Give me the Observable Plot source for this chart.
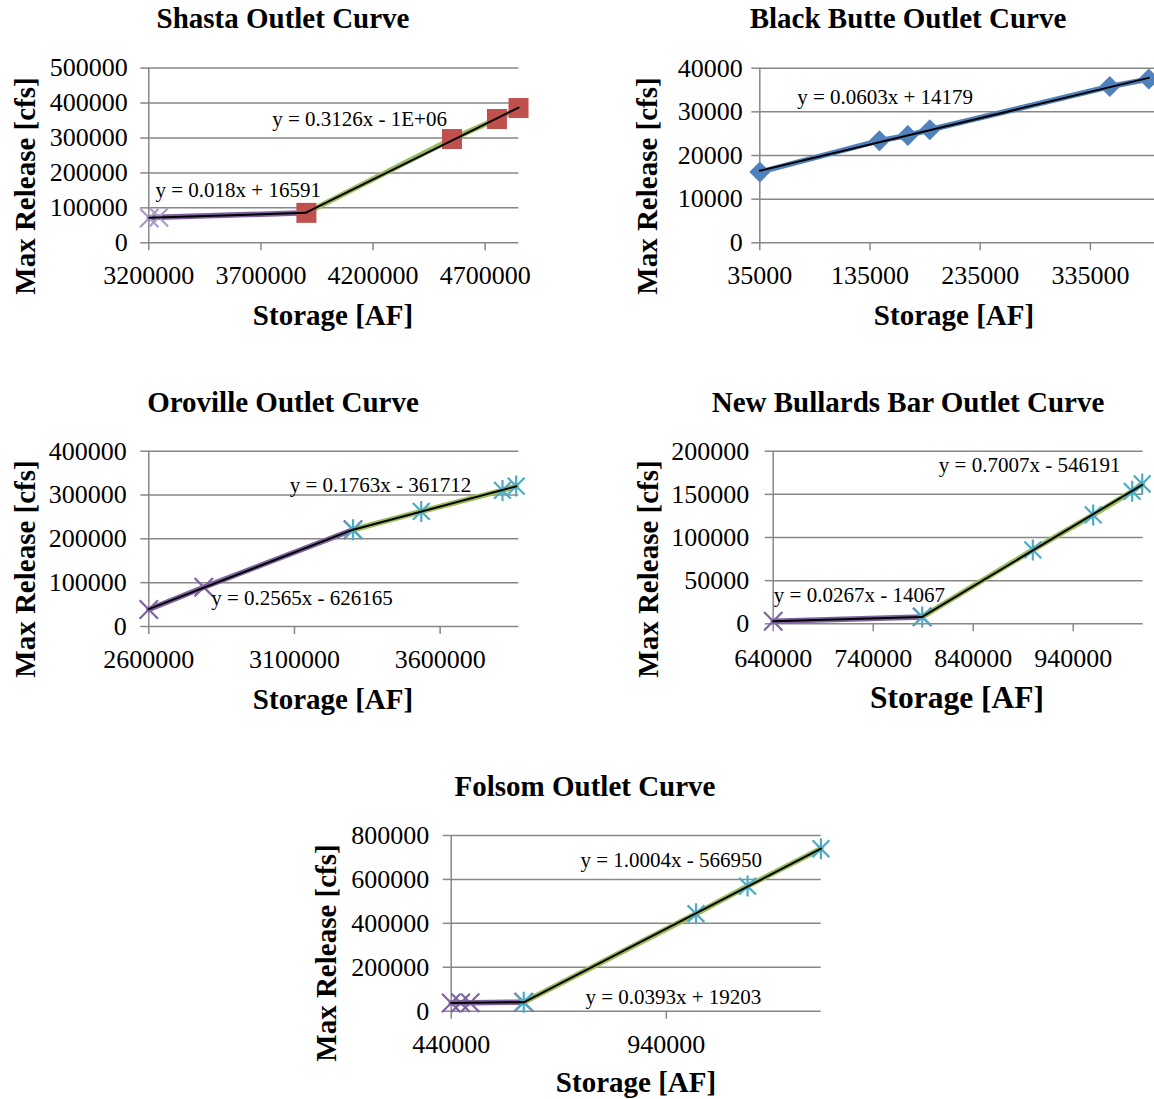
<!DOCTYPE html>
<html>
<head>
<meta charset="utf-8">
<script src="https://cdn.jsdelivr.net/npm/d3@7"></script>
<script src="https://cdn.jsdelivr.net/npm/@observablehq/plot@0.6"></script>
<style>
  html, body { margin: 0; padding: 0; background: #fff; }
  #root { position: relative; width: 1154px; height: 1099px; overflow: hidden; background: #fff;
          font-family: "Liberation Serif", "Times New Roman", serif; color: #000; }
  #root svg, #root svg text { font-family: "Liberation Serif", "Times New Roman", serif !important; }
  .panel { position: absolute; }
  .lbl { position: absolute; white-space: nowrap; font-weight: bold; line-height: 1; }
</style>
</head>
<body>
<div id="root"></div>
<script>
// ---------------- DATA ----------------
// Shasta
const shastaLowStorage  = [3202000, 3245000, 3902800];
const shastaLowRelease  = [71000, 73000, 85700];
const shastaHighStorage = [3902800, 4552000, 4752600, 4848800];
const shastaHighRelease = [85700, 297000, 354300, 385700];
// Black Butte
const blackButteStorage = [35000, 143600, 169300, 189300, 352600, 388000];
const blackButteRelease = [16200, 23400, 24600, 25900, 35800, 37500];
// Oroville
const orovilleLowStorage  = [2600000, 2788600, 3301000];
const orovilleLowRelease  = [38800, 89700, 220800];
const orovilleHighStorage = [3301000, 3535200, 3814000, 3861000];
const orovilleHighRelease = [220800, 262600, 310500, 320400];
// New Bullards Bar
const nbbLowStorage  = [640000, 789000];
const nbbLowRelease  = [3000, 8000];
const nbbHighStorage = [789000, 899600, 960000, 999000, 1009000];
const nbbHighRelease = [8000, 85600, 126200, 153500, 162000];
// Folsom
const folsomLowStorage  = [440000, 462000, 484000, 608600];
const folsomLowRelease  = [37500, 38000, 38500, 41000];
const folsomHighStorage = [608600, 1009000, 1128800, 1299300];
const folsomHighRelease = [41000, 443700, 569500, 739900];

// Tick values
const shastaXTicks = [3200000, 3700000, 4200000, 4700000];
const shastaYTicks = [0, 100000, 200000, 300000, 400000, 500000];
const blackButteXTicks = [35000, 135000, 235000, 335000];
const blackButteYTicks = [0, 10000, 20000, 30000, 40000];
const orovilleXTicks = [2600000, 3100000, 3600000];
const orovilleYTicks = [0, 100000, 200000, 300000, 400000];
const nbbXTicks = [640000, 740000, 840000, 940000];
const nbbYTicks = [0, 50000, 100000, 150000, 200000];
const folsomXTicks = [440000, 940000];
const folsomYTicks = [0, 200000, 400000, 600000, 800000];

// Titles and trendline equations
const titles = ["Shasta Outlet Curve", "Black Butte Outlet Curve", "Oroville Outlet Curve",
                "New Bullards Bar Outlet Curve", "Folsom Outlet Curve"];
const xTitle = "Storage [AF]";
const yTitle = "Max Release [cfs]";
const shastaEq = ["y = 0.018x + 16591", "y = 0.3126x - 1E+06"];
const blackButteEq = ["y = 0.0603x + 14179"];
const orovilleEq = ["y = 0.2565x - 626165", "y = 0.1763x - 361712"];
const nbbEq = ["y = 0.0267x - 14067", "y = 0.7007x - 546191"];
const folsomEq = ["y = 0.0393x + 19203", "y = 1.0004x - 566950"];

// ---------------- RENDER ----------------
const rows = (s, r) => s.map((v, i) => ({storage: v, release: r[i]}));
const fmt = d3.format("d");
const SERIF = '"Liberation Serif", "Times New Roman", serif';
const GRID = "#878787";
const PURPLE = "#7F63A1", LAVENDER = "#A99BCB", GREEN = "#9BBB59",
      CYAN = "#4BACC6", RED = "#C0504D", BLUE = "#4F81BD";

const half = size => Math.sqrt(size / Math.PI);
const SYM = {
  square:  {draw(c, s) { const r = half(s); c.rect(-r, -r, 2 * r, 2 * r); }},
  diamond: {draw(c, s) { const r = half(s); c.moveTo(0, -r); c.lineTo(r, 0); c.lineTo(0, r); c.lineTo(-r, 0); c.closePath(); }},
  cross:   {draw(c, s) { const r = half(s) * 0.92; c.moveTo(-r, -r); c.lineTo(r, r); c.moveTo(r, -r); c.lineTo(-r, r); }},
  star:    {draw(c, s) { const r = half(s); const a = r * 0.8; c.moveTo(-a, -a); c.lineTo(a, a); c.moveTo(a, -a); c.lineTo(-a, a); c.moveTo(0, -r); c.lineTo(0, r); }}
};

function markerMarks(data, m) {
  const filled = m.symbol === SYM.square || m.symbol === SYM.diamond;
  return Plot.dot(data, {x: "storage", y: "release", symbol: m.symbol, r: m.r,
    fill: filled ? m.color : "none", stroke: filled ? "none" : m.color, strokeWidth: filled ? 0 : 2.2});
}

const root = document.getElementById("root");

function label(text, cx, cy, size, rotate) {
  const d = document.createElement("div");
  d.className = "lbl";
  d.textContent = text;
  d.style.fontSize = size + "px";
  d.style.left = cx + "px";
  d.style.top = cy + "px";
  d.style.transform = "translate(-50%,-50%)" + (rotate ? " rotate(-90deg)" : "");
  root.appendChild(d);
}

function panel(p) {
  const ml = p.fx[0] - p.L, mr = p.L + p.W - p.fx[1];
  const mt = p.fy[0] - p.T, mb = p.T + p.H - p.fy[1];
  const marks = [
    Plot.gridY({ticks: p.yTicks, stroke: GRID, strokeOpacity: 1, strokeWidth: 1.5}),
    Plot.ruleX([p.xDomain[0]], {stroke: GRID, strokeWidth: 1.5}),
    Plot.axisY({ticks: p.yTicks, tickSize: 8, tickPadding: p.yPad, stroke: GRID, strokeWidth: 1.5,
                tickFormat: fmt, label: null, fontFamily: SERIF, fontSize: 26}),
    Plot.axisX({ticks: p.xTicks, tickSize: 8, tickPadding: p.xPad, stroke: GRID, strokeWidth: 1.5,
                tickFormat: fmt, label: null, fontFamily: SERIF, fontSize: 26})
  ];
  for (const s of p.series) marks.push(Plot.line(s.data, {x: "storage", y: "release", stroke: s.line, strokeWidth: s.lw || 5.5}));
  for (const s of p.series) marks.push(markerMarks(s.data, s.marker));
  for (const s of p.series) marks.push(Plot.linearRegressionY(s.data, {x: "storage", y: "release", stroke: "black", strokeWidth: 2, ci: 0}));
  marks.push(Plot.text(p.eqs, {x: "x", y: "y", text: "text", textAnchor: "start", fontSize: 21, fontFamily: SERIF, fill: "black"}));

  const svg = Plot.plot({
    width: p.W, height: p.H,
    marginLeft: ml, marginRight: mr, marginTop: mt, marginBottom: mb,
    style: {fontFamily: SERIF, fontSize: "26px", color: "black",
            background: "transparent", overflow: "visible", maxWidth: "none"},
    x: {type: "linear", domain: p.xDomain},
    y: {type: "linear", domain: p.yDomain},
    marks
  });
  svg.classList.add("panel");
  svg.style.left = p.L + "px";
  svg.style.top = p.T + "px";
  root.appendChild(svg);
}

// Shasta
panel({L: 0, T: 0, W: 575, H: 300, fx: [148.3, 518.3], fy: [67.6, 242.3],
  xDomain: [3200000, 4850000], yDomain: [0, 500000], xTicks: shastaXTicks, yTicks: shastaYTicks,
  xPad: 15, yPad: 13,
  series: [
    {data: rows(shastaLowStorage, shastaLowRelease), line: PURPLE, marker: {symbol: SYM.cross, r: 10, color: LAVENDER}},
    {data: rows(shastaHighStorage, shastaHighRelease), line: GREEN, marker: {symbol: SYM.square, r: 10, color: RED}}
  ],
  eqs: [{text: shastaEq[0], x: 3230000, y: 149400}, {text: shastaEq[1], x: 3750000, y: 354000}]
});

// Black Butte
panel({L: 590, T: 0, W: 600, H: 300, fx: [759.3, 1161.5], fy: [67.7, 242.3],
  xDomain: [35000, 400000], yDomain: [0, 40000], xTicks: blackButteXTicks, yTicks: blackButteYTicks,
  xPad: 15, yPad: 9,
  series: [
    {data: rows(blackButteStorage, blackButteRelease), line: BLUE, lw: 5.5, marker: {symbol: SYM.diamond, r: 10.5, color: BLUE}}
  ],
  eqs: [{text: blackButteEq[0], x: 68900, y: 33300}]
});

// Oroville
panel({L: 0, T: 384, W: 575, H: 300, fx: [148.3, 518.3], fy: [450.7, 626],
  xDomain: [2600000, 3870000], yDomain: [0, 400000], xTicks: orovilleXTicks, yTicks: orovilleYTicks,
  xPad: 15, yPad: 14,
  series: [
    {data: rows(orovilleLowStorage, orovilleLowRelease), line: PURPLE, marker: {symbol: SYM.cross, r: 10, color: PURPLE}},
    {data: rows(orovilleHighStorage, orovilleHighRelease), line: GREEN, marker: {symbol: SYM.star, r: 10.5, color: CYAN}}
  ],
  eqs: [{text: orovilleEq[0], x: 2814000, y: 65500}, {text: orovilleEq[1], x: 3083500, y: 321900}]
});

// New Bullards Bar
panel({L: 590, T: 384, W: 575, H: 300, fx: [772.7, 1142.7], fy: [450.7, 623.3],
  xDomain: [640000, 1010000], yDomain: [0, 200000], xTicks: nbbXTicks, yTicks: nbbYTicks,
  xPad: 17, yPad: 16,
  series: [
    {data: rows(nbbLowStorage, nbbLowRelease), line: PURPLE, marker: {symbol: SYM.cross, r: 10, color: PURPLE}},
    {data: rows(nbbHighStorage, nbbHighRelease), line: GREEN, marker: {symbol: SYM.star, r: 10.5, color: CYAN}}
  ],
  eqs: [{text: nbbEq[0], x: 640600, y: 32800}, {text: nbbEq[1], x: 805600, y: 183200}]
});

// Folsom
panel({L: 290, T: 768, W: 575, H: 300, fx: [450.7, 820.7], fy: [835, 1010.7],
  xDomain: [440000, 1300000], yDomain: [0, 800000], xTicks: folsomXTicks, yTicks: folsomYTicks,
  xPad: 15, yPad: 14,
  series: [
    {data: rows(folsomLowStorage, folsomLowRelease), line: PURPLE, marker: {symbol: SYM.cross, r: 10, color: PURPLE}},
    {data: rows(folsomHighStorage, folsomHighRelease), line: GREEN, marker: {symbol: SYM.star, r: 10.5, color: CYAN}}
  ],
  eqs: [{text: folsomEq[0], x: 752000, y: 63800}, {text: folsomEq[1], x: 740300, y: 686600}]
});

// Titles
label(titles[0], 283, 18, 29);
label(titles[1], 908, 18, 29);
label(titles[2], 283, 402, 29);
label(titles[3], 908, 402, 29);
label(titles[4], 585, 786, 29);
// Axis titles
label(xTitle, 333, 315, 29);
label(xTitle, 954, 315, 29);
label(xTitle, 333, 699, 29);
label(xTitle, 957, 698, 31.5);
label(xTitle, 636, 1082, 29);
label(yTitle, 25, 186, 29, true);
label(yTitle, 647, 186, 29, true);
label(yTitle, 25, 569, 29, true);
label(yTitle, 648, 569, 29, true);
label(yTitle, 326, 953, 29, true);
</script>
</body>
</html>
